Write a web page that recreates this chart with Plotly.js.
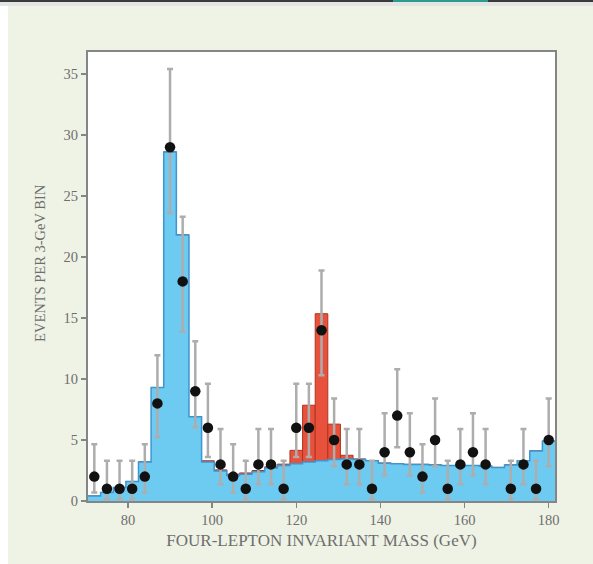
<!DOCTYPE html>
<html>
<head>
<meta charset="utf-8">
<script src="https://cdn.plot.ly/plotly-3.0.1.min.js"></script>
<style>
  html, body { margin: 0; padding: 0; background: #ffffff; }
  #wrap { position: relative; width: 593px; height: 564px; overflow: hidden; background: #ffffff; }
  #topline { position: absolute; left: 0; top: 0; width: 593px; height: 2px; background: #3a3a3a; }
  #topteal { position: absolute; left: 393px; top: 0; width: 95px; height: 3px; background: #2a9d8f; }
  #band { position: absolute; left: 0; top: 2px; width: 593px; height: 4px; background: #e4e4e4; }
  #panel { position: absolute; left: 8px; top: 6px; width: 585px; height: 558px; background: #eef3e5; }
  #chart { position: absolute; left: 0; top: 0; width: 593px; height: 564px; }
</style>
</head>
<body>
<div id="wrap">
  <div id="topline"></div>
  <div id="topteal"></div>
  <div id="band"></div>
  <div id="panel"></div>
  <div id="chart"></div>
</div>
<script>
// Bin centres (GeV), 3-GeV bins
const binCenters = [72, 75, 78, 81, 84, 87, 90, 93, 96, 99, 102, 105, 108, 111, 114, 117, 120, 123, 126, 129, 132, 135, 138, 141, 144, 147, 150, 153, 156, 159, 162, 165, 168, 171, 174, 177, 180];

// Background expectation (blue) per bin
const backgroundVals = [0.4, 0.7, 1.1, 1.6, 3.2, 9.3, 28.6, 21.8, 6.9, 3.2, 2.45, 2.1, 2.2, 2.4, 2.7, 2.9, 3.05, 3.2, 3.3, 3.4, 3.45, 3.4, 3.3, 3.1, 3.05, 3.0, 3.0, 2.95, 2.9, 2.9, 2.9, 2.85, 2.75, 2.95, 3.3, 4.1, 4.9];

// Signal expectation (red), stacked on the background
const signalVals = [0, 0, 0, 0, 0, 0, 0, 0, 0, 0.1, 0.1, 0.1, 0.1, 0.1, 0.1, 0.12, 1.1, 4.65, 12.05, 2.9, 0.3, 0.05, 0, 0, 0, 0, 0, 0, 0, 0, 0, 0, 0, 0, 0, 0, 0];

// Observed events per bin (null = no event)
const observed = [2, 1, 1, 1, 2, 8, 29, 18, 9, 6, 3, 2, 1, 3, 3, 1, 6, 6, 14, 5, 3, 3, 1, 4, 7, 4, 2, 5, 1, 3, 4, 3, null, 1, 3, 1, 5];

// Error bar extents
const errUp   = [2.65, 2.3, 2.3, 2.3, 2.65, 3.95, 6.4, 5.3, 4.1, 3.6, 2.9, 2.65, 2.3, 2.9, 2.9, 2.3, 3.6, 3.6, 4.9, 3.4, 2.9, 2.9, 2.3, 3.2, 3.8, 3.2, 2.65, 3.4, 2.3, 2.9, 3.2, 2.9, 0, 2.3, 2.9, 2.3, 3.4];
const errDown = [1.3, 0.83, 0.83, 0.83, 1.3, 2.75, 5.4, 4.1, 2.95, 2.4, 1.63, 1.3, 0.83, 1.63, 1.63, 0.83, 2.4, 2.4, 3.7, 2.15, 1.63, 1.63, 0.83, 1.9, 2.6, 1.9, 1.3, 2.15, 0.83, 1.63, 1.9, 1.63, 0, 0.83, 1.63, 0.83, 2.15];

const xTicks = [80, 100, 120, 140, 160, 180];
const yTicks = [0, 5, 10, 15, 20, 25, 30, 35];

const binWidth = 3;

// step outline of the background histogram
const stepX = binCenters.map(c => c - binWidth / 2).concat([binCenters[binCenters.length - 1] + binWidth / 2]);
const stepY = backgroundVals.concat([backgroundVals[backgroundVals.length - 1]]);

const fontFam = '"Liberation Serif", "DejaVu Serif", serif';
const textGray = '#6e6e6e';
const axisGray = '#858585';

const traces = [
  {
    type: 'bar',
    x: binCenters,
    y: signalVals,
    base: backgroundVals,
    width: binWidth,
    marker: { color: '#e8523c', line: { color: '#b0351f', width: 1 } },
    hoverinfo: 'skip',
    showlegend: false
  },
  {
    type: 'scatter',
    mode: 'lines',
    x: stepX,
    y: stepY,
    line: { shape: 'hv', color: '#3f95cf', width: 1.5 },
    fill: 'tozeroy',
    fillcolor: '#6dcbf2',
    hoverinfo: 'skip',
    showlegend: false
  },
  {
    type: 'scatter',
    mode: 'markers',
    x: binCenters,
    y: observed,
    marker: { color: '#111111', size: 10.5 },
    error_y: {
      type: 'data',
      symmetric: false,
      array: errUp,
      arrayminus: errDown,
      color: '#adadad',
      thickness: 2.5,
      width: 3
    },
    showlegend: false
  }
];

const layout = {
  width: 593,
  height: 564,
  margin: { l: 88, r: 38, t: 52, b: 63 },
  paper_bgcolor: 'rgba(0,0,0,0)',
  plot_bgcolor: '#ffffff',
  showlegend: false,
  barmode: 'overlay',
  font: { family: fontFam, color: textGray, size: 14 },
  xaxis: {
    range: [70.5, 181.5],
    tickvals: xTicks,
    ticktext: xTicks.map(String),
    ticks: 'outside',
    ticklen: 5,
    tickwidth: 1.5,
    tickcolor: axisGray,
    showline: true,
    mirror: true,
    linecolor: axisGray,
    linewidth: 2,
    showgrid: false,
    zeroline: false,
    tickfont: { family: fontFam, size: 14.5, color: textGray },
    title: { text: 'FOUR-LEPTON INVARIANT MASS (GeV)', font: { family: fontFam, size: 17, color: textGray }, standoff: 7 }
  },
  yaxis: {
    range: [0, 36.8],
    tickvals: yTicks,
    ticktext: yTicks.map(String),
    ticks: 'outside',
    ticklen: 5,
    tickwidth: 1.5,
    tickcolor: axisGray,
    showline: true,
    mirror: true,
    linecolor: axisGray,
    linewidth: 2,
    showgrid: false,
    zeroline: false,
    tickfont: { family: fontFam, size: 14.5, color: textGray }
  },
  annotations: [
    {
      text: 'EVENTS PER 3-GeV BIN',
      xref: 'paper', yref: 'paper',
      x: -0.103, y: 0.53,
      xanchor: 'center', yanchor: 'middle',
      textangle: -90,
      showarrow: false,
      font: { family: fontFam, size: 14.5, color: textGray }
    }
  ]
};

Plotly.newPlot('chart', traces, layout, { displayModeBar: false, staticPlot: true });
</script>
</body>
</html>
